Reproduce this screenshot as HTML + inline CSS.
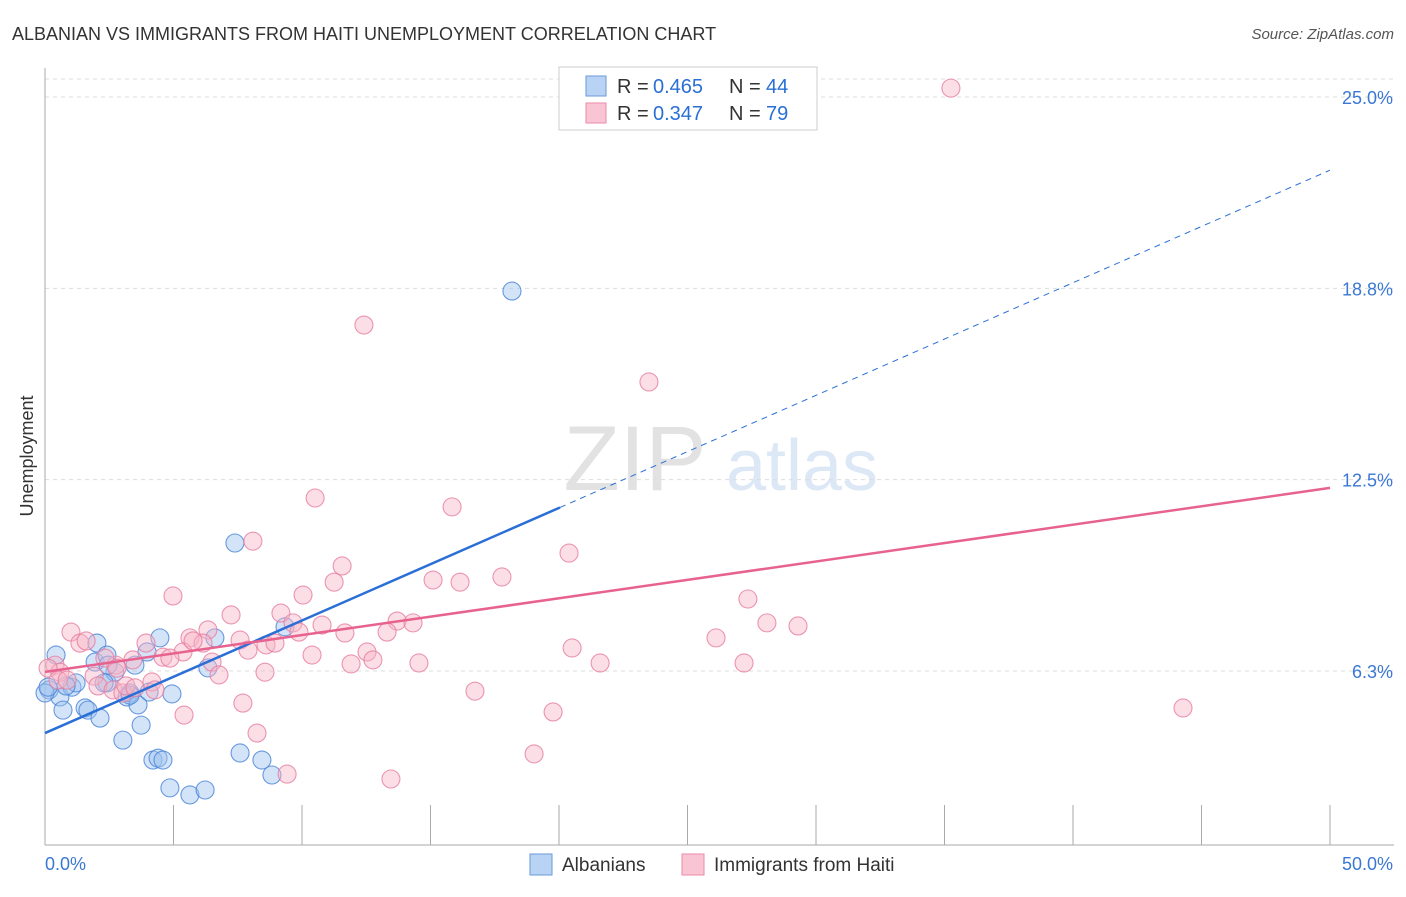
<!DOCTYPE html>
<html><head><meta charset="utf-8"><style>
body{margin:0;background:#fff;font-family:"Liberation Sans",sans-serif;}
svg text{font-family:"Liberation Sans",sans-serif;}
</style></head><body>
<svg id="c" width="1406" height="892" xmlns="http://www.w3.org/2000/svg">
<text x="12" y="40" font-size="18" fill="#333">ALBANIAN VS IMMIGRANTS FROM HAITI UNEMPLOYMENT CORRELATION CHART</text>
<text x="1394" y="39" font-size="15" fill="#555" text-anchor="end" font-style="italic">Source: ZipAtlas.com</text>
<text x="33" y="456" font-size="18" fill="#333" text-anchor="middle" transform="rotate(-90 33 456)">Unemployment</text>
<g><text x="635" y="490" font-size="92" fill="#e2e2e2" text-anchor="middle" font-family="Liberation Serif">ZIP</text><text x="802" y="490" font-size="72" fill="#dce8f6" text-anchor="middle">atlas</text></g>
<g id="grid"></g><g id="axes"></g><g id="pts"></g><g id="lines"></g>
<g>
<rect x="559" y="67" width="258" height="63" fill="#fff" stroke="#ccc"/>
<rect x="586" y="76" width="20" height="20" fill="#b9d3f5" stroke="#6a9ad8"/>
<rect x="586" y="103" width="20" height="20" fill="#f9c5d4" stroke="#ea8aa8"/>
<text y="93" font-size="20" fill="#333"><tspan x="617">R = </tspan><tspan x="653" fill="#2a6fd6">0.465</tspan><tspan x="729">N = </tspan><tspan x="766" fill="#2a6fd6">44</tspan></text>
<text y="120" font-size="20" fill="#333"><tspan x="617">R = </tspan><tspan x="653" fill="#2a6fd6">0.347</tspan><tspan x="729">N = </tspan><tspan x="766" fill="#2a6fd6">79</tspan></text>
</g>
<g>
<rect x="530" y="854" width="22" height="21" fill="#b9d3f5" stroke="#6a9ad8"/>
<text x="562" y="871" font-size="19" fill="#333">Albanians</text>
<rect x="682" y="854" width="22" height="21" fill="#f9c5d4" stroke="#ea8aa8"/>
<text x="714" y="871" font-size="19" fill="#333">Immigrants from Haiti</text>
</g>
</svg>
<script>
const yTicks=[6.25,12.5,18.75,25];
const yTickLabels=["6.3%","12.5%","18.8%","25.0%"];
const xTickVals=[0,5,10,15,20,25,30,35,40,45,50];
const blueX=[0.43,0.16,0.58,0.70,1.05,1.21,1.56,1.67,1.95,2.02,2.14,2.41,2.41,2.72,2.45,3.03,3.19,3.31,3.50,3.62,3.74,4.05,4.20,4.40,4.59,4.47,4.86,4.94,5.64,6.23,6.34,6.61,7.39,7.59,8.44,8.83,9.34,18.17,0,0.12,0.82,2.30,3.97,3.31];
const blueY=[6.77,5.63,5.40,4.97,5.72,5.86,5.04,4.97,6.54,7.16,4.71,6.77,5.86,6.21,6.44,3.99,5.40,5.53,6.44,5.14,4.48,5.56,3.34,3.40,3.34,7.33,2.43,5.50,2.20,2.36,6.35,7.33,10.43,3.57,3.34,2.85,7.69,18.66,5.53,5.72,5.76,5.86,6.87,5.46];
const pinkX=[35.25,12.41,23.50,10.51,15.84,8.09,20.39,11.56,17.78,15.10,16.15,11.25,4.98,10.04,7.24,27.35,9.18,9.65,13.70,14.32,28.09,29.30,6.34,1.01,9.88,10.78,11.67,13.31,26.11,1.36,1.60,5.64,7.59,6.15,8.60,8.95,3.93,20.51,10.39,12.53,12.76,11.91,14.55,21.60,27.20,5.37,4.59,4.86,6.50,7.90,3.42,2.76,2.33,0.39,0.58,0.12,1.91,0.51,0.86,2.06,2.65,3.03,4.16,4.28,8.56,6.77,16.73,7.70,5.41,19.77,44.28,8.25,19.03,9.42,13.46,2.80,5.76,3.15,3.50];
const pinkY=[25.29,17.55,15.69,11.90,11.61,10.49,10.10,9.68,9.32,9.22,9.15,9.15,8.70,8.73,8.08,8.60,8.14,7.82,7.88,7.82,7.82,7.72,7.59,7.52,7.52,7.75,7.49,7.52,7.33,7.16,7.23,7.33,7.26,7.16,7.10,7.16,7.16,7.00,6.77,6.87,6.61,6.48,6.51,6.51,6.51,6.87,6.70,6.67,6.54,6.93,6.61,6.44,6.67,6.44,6.21,6.34,6.08,5.95,5.95,5.76,5.63,5.53,5.89,5.63,6.21,6.12,5.59,5.20,4.81,4.91,5.04,4.22,3.54,2.88,2.72,6.34,7.23,5.76,5.70];
const blueTrend=[4.22,22.61], blueSolidEnd=20.04;
const pinkTrend=[6.22,12.23];
const X=v=>45+v*25.7, Y=v=>97+(25-v)*30.61;
const NS="http://www.w3.org/2000/svg";
function mk(p,t,a){const e=document.createElementNS(NS,t);for(const k in a)e.setAttribute(k,a[k]);p.appendChild(e);return e;}
const grid=document.getElementById('grid'),axes=document.getElementById('axes'),pts=document.getElementById('pts'),lines=document.getElementById('lines');
let tg=mk(grid,'line',{x1:45,x2:1394,y1:79,y2:79,stroke:'#ddd','stroke-dasharray':'4,4'});


yTicks.forEach((v,i)=>{
 const l=mk(grid,'line',{x1:45,x2:1394,y1:Y(v),y2:Y(v),stroke:'#ddd','stroke-dasharray':'4,4'});
 
 
 const t=mk(axes,'text',{x:1393,y:Y(v)+7,'font-size':18,fill:'#3a78d4','text-anchor':'end'});t.textContent=yTickLabels[i];
 
 
});
let ax=mk(axes,'line',{x1:45,x2:45,y1:68,y2:845,stroke:'#aaa'});


let bx=mk(axes,'line',{x1:45,x2:1394,y1:845,y2:845,stroke:'#aaa'});


xTickVals.forEach(v=>{const l=mk(axes,'line',{x1:X(v),x2:X(v),y1:805,y2:845,stroke:'#aaa'});
 
 });
let xl=mk(axes,'text',{x:45,y:870,'font-size':18,fill:'#3a78d4'});xl.textContent='0.0%';


let xr=mk(axes,'text',{x:1393,y:870,'font-size':18,fill:'#3a78d4','text-anchor':'end'});xr.textContent='50.0%';


blueX.forEach((x,i)=>{const c=mk(pts,'circle',{cx:X(x),cy:Y(blueY[i]),r:9,fill:'rgba(160,196,240,0.45)',stroke:'rgba(70,130,215,0.8)','stroke-width':1.1});
 
 });
pinkX.forEach((x,i)=>{const c=mk(pts,'circle',{cx:X(x),cy:Y(pinkY[i]),r:9,fill:'rgba(247,182,200,0.45)',stroke:'rgba(230,125,160,0.8)','stroke-width':1.1});
 
 });
const bAt=x=>blueTrend[0]+(blueTrend[1]-blueTrend[0])*x/50;
let b1=mk(lines,'line',{x1:X(0),y1:Y(blueTrend[0]),x2:X(blueSolidEnd),y2:Y(bAt(blueSolidEnd)),stroke:'#2a6fd6','stroke-width':2.5});


let b2=mk(lines,'line',{x1:X(blueSolidEnd),y1:Y(bAt(blueSolidEnd)),x2:X(50),y2:Y(blueTrend[1]),stroke:'#2a6fd6','stroke-width':1,'stroke-dasharray':'6,5'});


let p1=mk(lines,'line',{x1:X(0),y1:Y(pinkTrend[0]),x2:X(50),y2:Y(pinkTrend[1]),stroke:'#e8628f','stroke-width':2.5});


</script>
</body></html>
